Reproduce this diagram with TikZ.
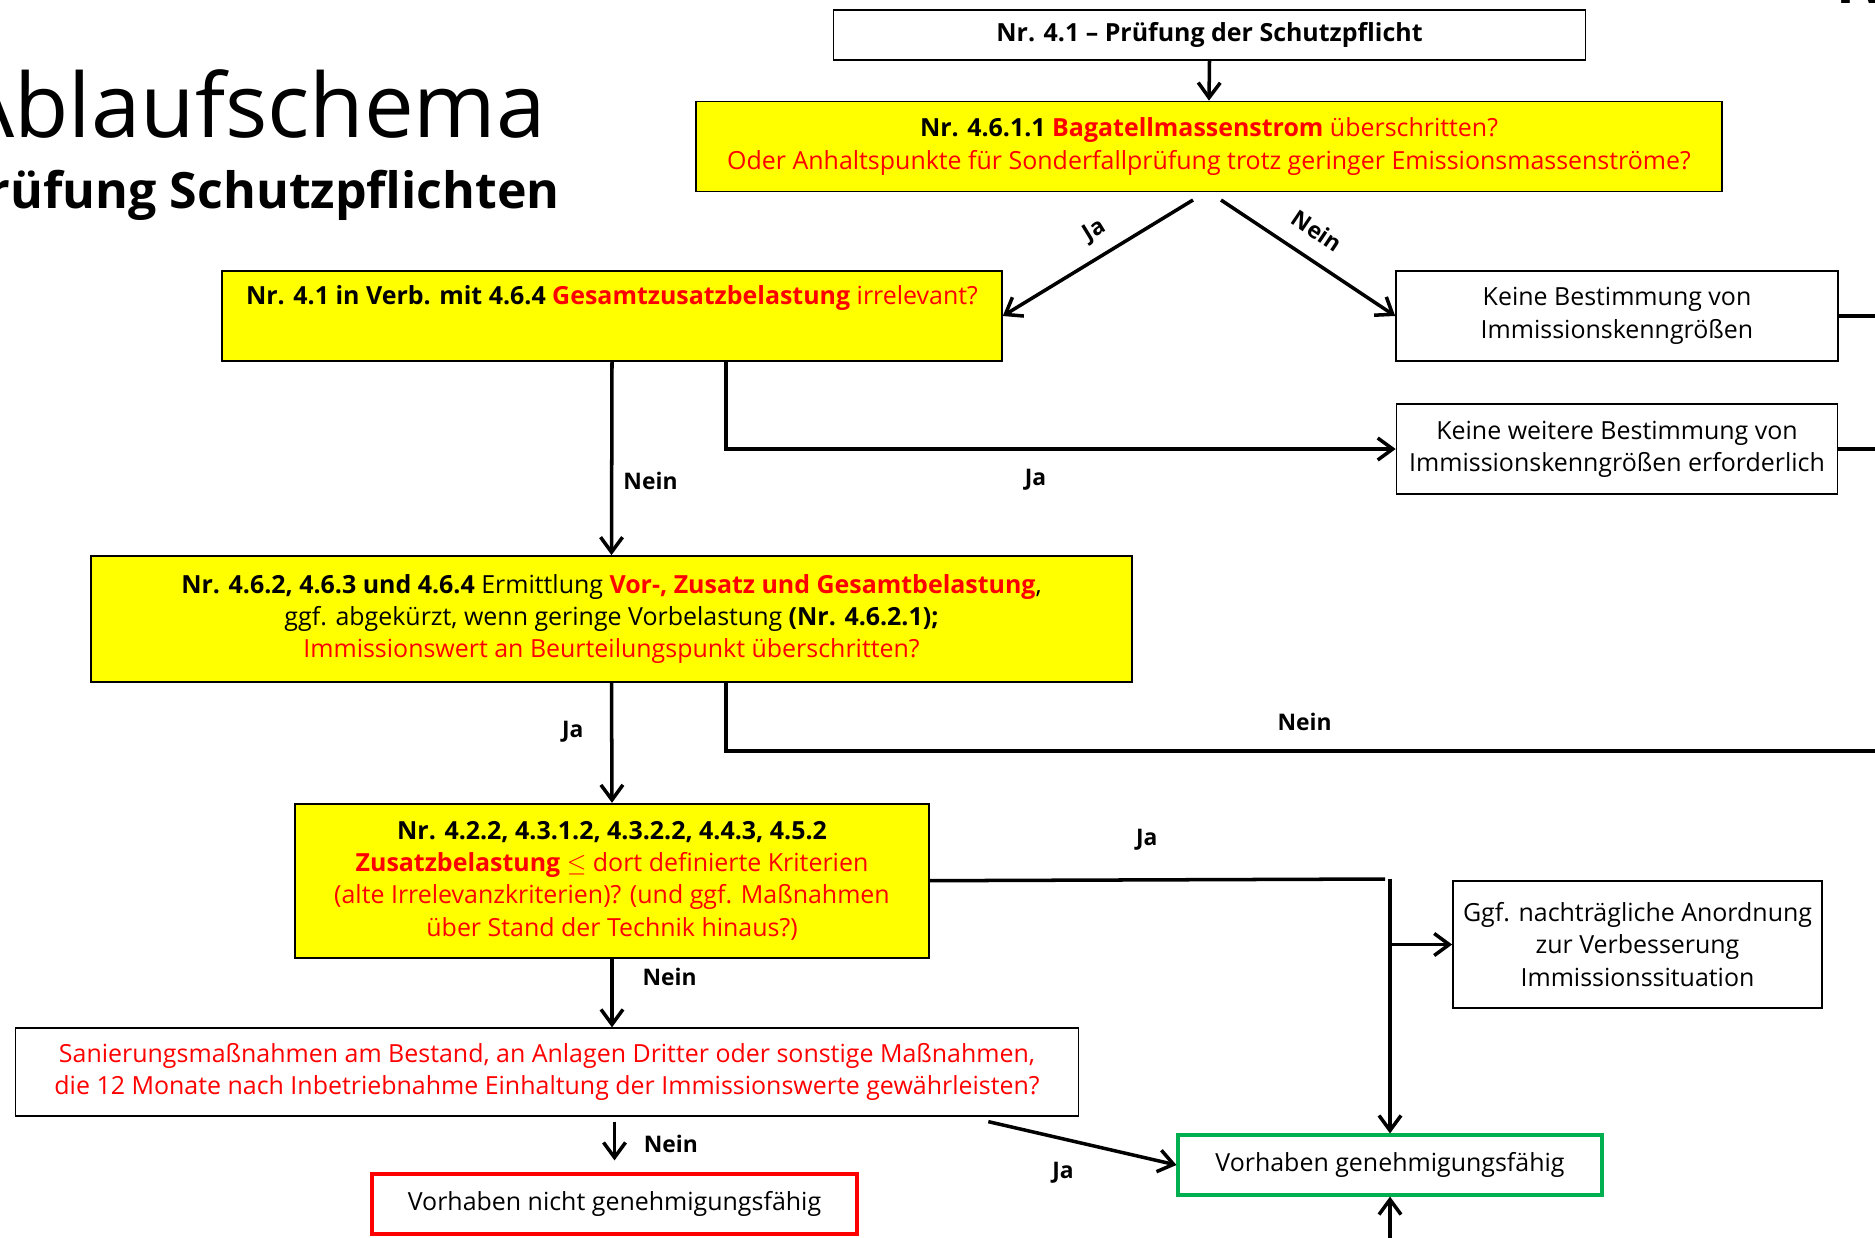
\documentclass[tikz,border=0pt]{standalone}
\usepackage{fontspec}
\setmainfont{Open Sans}
\usepackage{tikz}
\usetikzlibrary{arrows.meta}
\definecolor{warnrot}{RGB}{255,0,0}
\definecolor{prueffeld}{RGB}{255,255,0}
\definecolor{okgruen}{RGB}{0,176,80}

\begin{document}
\begin{tikzpicture}[x=0.02cm, y=-0.02cm,
  every node/.style={font=\fontsize{14.2}{18.4}\selectfont, align=center},
  kasten/.style={draw, line width=1pt, inner sep=0pt},
  frage/.style={kasten, fill=prueffeld},
  linie/.style={line width=2pt},
  pfeil/.style={linie, -{Straight Barb[length=3mm,width=4.4mm,line width=2pt]}},
  antwort/.style={font=\fontsize{13}{16}\selectfont\bfseries}]
  \useasboundingbox (0,0) rectangle (1875,1237);
  \clip (0,0) rectangle (1875,1237);
  % title, cut at the page edge
  \node[anchor=base east, font=\fontsize{50.5}{58}\selectfont] (titel) at (552,137.5) {Ablaufschema};
  \node[anchor=base east, font=\fontsize{28.5}{34}\selectfont\bfseries] (untertitel) at (566,208) {Prüfung Schutzpflichten};
  \node[anchor=base west, font=\fontsize{32.5}{38}\selectfont\bfseries] (seite) at (1830,4) {IV};
  % boxes
  \node[kasten, minimum width=15.04cm, minimum height=1cm] (pruefung) at (1209.5,34.7)
    {\textbf{Nr. 4.1 – Prüfung der Schutzpflicht}};
  \node[frage, minimum width=20.52cm, minimum height=1.8cm] (bagatell) at (1209,146.5)
    {\textbf{Nr. 4.6.1.1 \textcolor{warnrot}{Bagatellmassenstrom}} \textcolor{warnrot}{überschritten?}\\
     \textcolor{warnrot}{Oder Anhaltspunkte für Sonderfallprüfung trotz geringer Emissionsmassenströme?}};
  \node[frage, minimum width=15.6cm, minimum height=1.8cm] (gzb) at (612,316)
    {\textbf{Nr. 4.1 in Verb. mit 4.6.4 \textcolor{warnrot}{Gesamtzusatzbelastung}} \textcolor{warnrot}{irrelevant?}\\ \strut};
  \node[kasten, minimum width=8.84cm, minimum height=1.8cm] (keinebest) at (1617,316)
    {Keine Bestimmung von\\ Immissionskenngrößen};
  \node[kasten, minimum width=8.82cm, minimum height=1.8cm] (keineweitere) at (1617,449)
    {Keine weitere Bestimmung von\\ Immissionskenngrößen erforderlich};
  \node[frage, minimum width=20.82cm, minimum height=2.52cm] (ermittlung) at (611.5,619)
    {\textbf{Nr. 4.6.2, 4.6.3 und 4.6.4} Ermittlung \textbf{\textcolor{warnrot}{Vor-, Zusatz und Gesamtbelastung}},\\
     ggf. abgekürzt, wenn geringe Vorbelastung \textbf{(Nr. 4.6.2.1);}\\
     \textcolor{warnrot}{Immissionswert an Beurteilungspunkt überschritten?}};
  \node[frage, minimum width=12.68cm, minimum height=3.08cm] (zusatz) at (612,880.7)
    {\textbf{Nr. 4.2.2, 4.3.1.2, 4.3.2.2, 4.4.3, 4.5.2}\\
     \textcolor{warnrot}{\textbf{Zusatzbelastung} $\leq$ dort definierte Kriterien}\\
     \textcolor{warnrot}{(alte Irrelevanzkriterien)? (und ggf. Maßnahmen}\\
     \textcolor{warnrot}{über Stand der Technik hinaus?)}};
  \node[kasten, minimum width=7.38cm, minimum height=2.54cm] (anordnung) at (1637.5,944.5)
    {Ggf. nachträgliche Anordnung\\ zur Verbesserung\\ Immissionssituation};
  \node[kasten, minimum width=21.26cm, minimum height=1.75cm] (sanierung) at (547,1072)
    {\textcolor{warnrot}{Sanierungsmaßnahmen am Bestand, an Anlagen Dritter oder sonstige Maßnahmen,}\\
     \textcolor{warnrot}{die 12 Monate nach Inbetriebnahme Einhaltung der Immissionswerte gewährleisten?}};
  \node[kasten, draw=okgruen, line width=1.8pt, minimum width=8.48cm, minimum height=1.2cm] (genehm) at (1390,1165)
    {Vorhaben genehmigungsfähig};
  \node[kasten, draw=warnrot, line width=1.8pt, minimum width=9.7cm, minimum height=1.2cm] (nichtgenehm) at (614.5,1204)
    {Vorhaben nicht genehmigungsfähig};
  % free ends
  \coordinate (jaA) at (1193,200);
  \coordinate (neinA) at (1221,200);
  \coordinate (randA) at (1875,316);
  \coordinate (randB) at (1875,449);
  \coordinate (randC) at (1875,751);
  \coordinate (randD) at (1390,1260);
  \coordinate (knick) at (1390,879);
  % connectors
  \draw[pfeil] (pruefung.south) -- (bagatell.north);
  \draw[pfeil] (jaA) -- (gzb.east);
  \draw[pfeil] (neinA) -- (keinebest.west);
  \draw[linie] (keinebest.east) -- (randA);
  \draw[linie] (keineweitere.east) -- (randB);
  \draw[pfeil] (gzb.south) -- (ermittlung.north);
  \draw[pfeil] ([xshift=2.28cm]gzb.south) |- (keineweitere.west);
  \draw[pfeil] (ermittlung.south) -- (zusatz.north);
  \draw[linie] ([xshift=2.29cm]ermittlung.south) |- (randC);
  \draw[linie] (zusatz.east) -- ([xshift=-0.1cm]knick);
  \draw[pfeil] (knick) -- (genehm.north);
  \draw[pfeil] (knick |- anordnung.west) -- (anordnung.west);
  \draw[pfeil] (zusatz.south) -- (zusatz.south |- sanierung.north);
  \draw[pfeil] ([yshift=-0.1cm]sanierung.south -| nichtgenehm.north) -- ([yshift=0.24cm]nichtgenehm.north);
  \draw[pfeil] ([xshift=-1.82cm,yshift=-0.1cm]sanierung.south east) -- (genehm.west);
  \draw[pfeil] (randD) -- (genehm.south);
  % answers
  \node[antwort, rotate=31.5] (ja1) at (1095,231) {Ja};
  \node[antwort, rotate=-34] (nein1) at (1317,231) {Nein};
  \node[antwort] (nein2) at (650.5,480.7) {Nein};
  \node[antwort] (ja2) at (1035.6,479.5) {Ja};
  \node[antwort] (ja3) at (572.8,731.8) {Ja};
  \node[antwort] (nein3) at (1304.6,722.3) {Nein};
  \node[antwort] (ja4) at (1146.8,839.5) {Ja};
  \node[antwort] (nein4) at (669.6,977) {Nein};
  \node[antwort] (nein5) at (670.8,1144.4) {Nein};
  \node[antwort] (ja5) at (1063,1173) {Ja};
\end{tikzpicture}
\end{document}
